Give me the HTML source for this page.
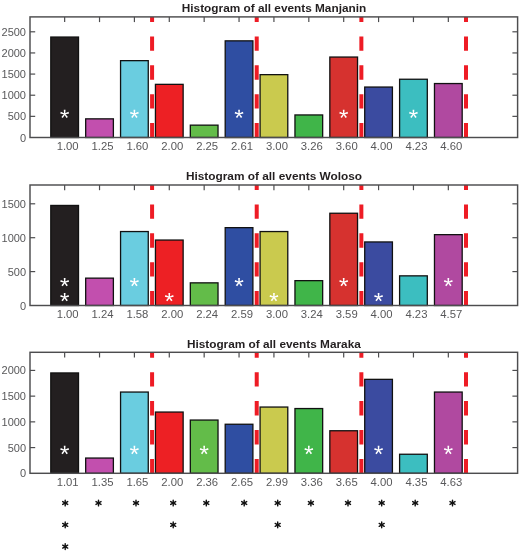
<!DOCTYPE html><html><head><meta charset="utf-8"><style>html,body{margin:0;padding:0;background:#fff}svg{display:block;will-change:transform;opacity:0.999}text{font-family:"Liberation Sans",sans-serif}</style></head><body>
<svg width="520" height="553" viewBox="0 0 520 553">
<rect width="520" height="553" fill="#fff"/>
<defs><g id="ws"><path d="M0.57,0.00 L0.88,-4.35 L-0.87,-4.35 L-0.57,-0.00Z M0.18,0.55 L4.41,-0.51 L3.87,-2.18 L-0.18,-0.55Z M-0.47,0.34 L1.85,4.03 L3.26,3.00 L0.47,-0.34Z M-0.47,-0.34 L-3.26,3.00 L-1.85,4.03 L0.47,0.34Z M0.18,-0.55 L-3.87,-2.18 L-4.41,-0.51 L-0.18,0.55Z" fill="#fff"/><circle r="0.8" fill="#fff"/></g><g id="bs" stroke="#111" stroke-width="1.4" stroke-linecap="round"><line x1="-0.00" y1="-2.90" x2="0.00" y2="2.90"/><line x1="-2.51" y1="-1.45" x2="2.51" y2="1.45"/><line x1="2.51" y1="-1.45" x2="-2.51" y2="1.45"/><circle r="1.2" fill="#111" stroke="none"/></g></defs>
<rect x="50.80" y="37.05" width="27.7" height="100.45" fill="#231f20" stroke="#111" stroke-width="1.3"/>
<rect x="85.68" y="118.85" width="27.7" height="18.65" fill="#c24fae" stroke="#111" stroke-width="1.3"/>
<rect x="120.56" y="60.65" width="27.7" height="76.85" fill="#6acde0" stroke="#111" stroke-width="1.3"/>
<rect x="155.44" y="84.35" width="27.7" height="53.15" fill="#ed2024" stroke="#111" stroke-width="1.3"/>
<rect x="190.32" y="125.15" width="27.7" height="12.35" fill="#63bc49" stroke="#111" stroke-width="1.3"/>
<rect x="225.20" y="40.85" width="27.7" height="96.65" fill="#2f4ea2" stroke="#111" stroke-width="1.3"/>
<rect x="260.08" y="74.65" width="27.7" height="62.85" fill="#cacA4e" stroke="#111" stroke-width="1.3"/>
<rect x="294.96" y="114.95" width="27.7" height="22.55" fill="#40b549" stroke="#111" stroke-width="1.3"/>
<rect x="329.84" y="57.05" width="27.7" height="80.45" fill="#d6322f" stroke="#111" stroke-width="1.3"/>
<rect x="364.72" y="87.05" width="27.7" height="50.45" fill="#3b4ba0" stroke="#111" stroke-width="1.3"/>
<rect x="399.60" y="79.25" width="27.7" height="58.25" fill="#3cbec0" stroke="#111" stroke-width="1.3"/>
<rect x="434.48" y="83.55" width="27.7" height="53.95" fill="#b049a0" stroke="#111" stroke-width="1.3"/>
<line x1="152.08" y1="137.5" x2="152.08" y2="16.9" stroke="#ee1c25" stroke-width="4" stroke-dasharray="14.4 14.5"/>
<line x1="256.72" y1="137.5" x2="256.72" y2="16.9" stroke="#ee1c25" stroke-width="4" stroke-dasharray="14.4 14.5"/>
<line x1="361.36" y1="137.5" x2="361.36" y2="16.9" stroke="#ee1c25" stroke-width="4" stroke-dasharray="14.4 14.5"/>
<line x1="466.00000000000006" y1="137.5" x2="466.00000000000006" y2="16.9" stroke="#ee1c25" stroke-width="4" stroke-dasharray="14.4 14.5"/>
<rect x="30" y="16.9" width="487.6" height="120.6" fill="none" stroke="#4d4d4f" stroke-width="1.45"/>
<line x1="64.65" y1="16.9" x2="64.65" y2="22.099999999999998" stroke="#4d4d4f" stroke-width="1.2"/>
<line x1="99.53" y1="16.9" x2="99.53" y2="22.099999999999998" stroke="#4d4d4f" stroke-width="1.2"/>
<line x1="134.41000000000003" y1="16.9" x2="134.41000000000003" y2="22.099999999999998" stroke="#4d4d4f" stroke-width="1.2"/>
<line x1="169.29000000000002" y1="16.9" x2="169.29000000000002" y2="22.099999999999998" stroke="#4d4d4f" stroke-width="1.2"/>
<line x1="204.17000000000002" y1="16.9" x2="204.17000000000002" y2="22.099999999999998" stroke="#4d4d4f" stroke-width="1.2"/>
<line x1="239.05" y1="16.9" x2="239.05" y2="22.099999999999998" stroke="#4d4d4f" stroke-width="1.2"/>
<line x1="273.93000000000006" y1="16.9" x2="273.93000000000006" y2="22.099999999999998" stroke="#4d4d4f" stroke-width="1.2"/>
<line x1="308.81000000000006" y1="16.9" x2="308.81000000000006" y2="22.099999999999998" stroke="#4d4d4f" stroke-width="1.2"/>
<line x1="343.69000000000005" y1="16.9" x2="343.69000000000005" y2="22.099999999999998" stroke="#4d4d4f" stroke-width="1.2"/>
<line x1="378.57000000000005" y1="16.9" x2="378.57000000000005" y2="22.099999999999998" stroke="#4d4d4f" stroke-width="1.2"/>
<line x1="413.45000000000005" y1="16.9" x2="413.45000000000005" y2="22.099999999999998" stroke="#4d4d4f" stroke-width="1.2"/>
<line x1="448.33000000000004" y1="16.9" x2="448.33000000000004" y2="22.099999999999998" stroke="#4d4d4f" stroke-width="1.2"/>
<text x="26" y="141.5" font-size="11" text-anchor="end" fill="#58585a">0</text>
<line x1="30" y1="116.36" x2="35.2" y2="116.36" stroke="#4d4d4f" stroke-width="1.2"/>
<line x1="517.6" y1="116.36" x2="512.4" y2="116.36" stroke="#4d4d4f" stroke-width="1.2"/>
<text x="26" y="120.36" font-size="11" text-anchor="end" fill="#58585a">500</text>
<line x1="30" y1="95.22" x2="35.2" y2="95.22" stroke="#4d4d4f" stroke-width="1.2"/>
<line x1="517.6" y1="95.22" x2="512.4" y2="95.22" stroke="#4d4d4f" stroke-width="1.2"/>
<text x="26" y="99.22" font-size="11" text-anchor="end" fill="#58585a">1000</text>
<line x1="30" y1="74.08" x2="35.2" y2="74.08" stroke="#4d4d4f" stroke-width="1.2"/>
<line x1="517.6" y1="74.08" x2="512.4" y2="74.08" stroke="#4d4d4f" stroke-width="1.2"/>
<text x="26" y="78.08" font-size="11" text-anchor="end" fill="#58585a">1500</text>
<line x1="30" y1="52.94" x2="35.2" y2="52.94" stroke="#4d4d4f" stroke-width="1.2"/>
<line x1="517.6" y1="52.94" x2="512.4" y2="52.94" stroke="#4d4d4f" stroke-width="1.2"/>
<text x="26" y="56.94" font-size="11" text-anchor="end" fill="#58585a">2000</text>
<line x1="30" y1="31.799999999999997" x2="35.2" y2="31.799999999999997" stroke="#4d4d4f" stroke-width="1.2"/>
<line x1="517.6" y1="31.799999999999997" x2="512.4" y2="31.799999999999997" stroke="#4d4d4f" stroke-width="1.2"/>
<text x="26" y="35.8" font-size="11" text-anchor="end" fill="#58585a">2500</text>
<text x="67.65" y="150.20" font-size="11.3" text-anchor="middle" fill="#58585a">1.00</text>
<text x="102.53" y="150.20" font-size="11.3" text-anchor="middle" fill="#58585a">1.25</text>
<text x="137.41000000000003" y="150.20" font-size="11.3" text-anchor="middle" fill="#58585a">1.60</text>
<text x="172.29000000000002" y="150.20" font-size="11.3" text-anchor="middle" fill="#58585a">2.00</text>
<text x="207.17000000000002" y="150.20" font-size="11.3" text-anchor="middle" fill="#58585a">2.25</text>
<text x="242.05" y="150.20" font-size="11.3" text-anchor="middle" fill="#58585a">2.61</text>
<text x="276.93000000000006" y="150.20" font-size="11.3" text-anchor="middle" fill="#58585a">3.00</text>
<text x="311.81000000000006" y="150.20" font-size="11.3" text-anchor="middle" fill="#58585a">3.26</text>
<text x="346.69000000000005" y="150.20" font-size="11.3" text-anchor="middle" fill="#58585a">3.60</text>
<text x="381.57000000000005" y="150.20" font-size="11.3" text-anchor="middle" fill="#58585a">4.00</text>
<text x="416.45000000000005" y="150.20" font-size="11.3" text-anchor="middle" fill="#58585a">4.23</text>
<text x="451.33000000000004" y="150.20" font-size="11.3" text-anchor="middle" fill="#58585a">4.60</text>
<text x="181.8" y="11.7" font-size="10.9" font-weight="bold" textLength="184.4" lengthAdjust="spacingAndGlyphs" fill="#231f20">Histogram of all events Manjanin</text>
<use href="#ws" x="64.65" y="114.00"/>
<use href="#ws" x="134.41" y="114.00"/>
<use href="#ws" x="239.05" y="114.00"/>
<use href="#ws" x="343.69" y="114.00"/>
<use href="#ws" x="413.45" y="114.00"/>
<rect x="50.80" y="205.45" width="27.7" height="100.05" fill="#231f20" stroke="#111" stroke-width="1.3"/>
<rect x="85.68" y="278.15" width="27.7" height="27.35" fill="#c24fae" stroke="#111" stroke-width="1.3"/>
<rect x="120.56" y="231.55" width="27.7" height="73.95" fill="#6acde0" stroke="#111" stroke-width="1.3"/>
<rect x="155.44" y="240.05" width="27.7" height="65.45" fill="#ed2024" stroke="#111" stroke-width="1.3"/>
<rect x="190.32" y="282.85" width="27.7" height="22.65" fill="#63bc49" stroke="#111" stroke-width="1.3"/>
<rect x="225.20" y="227.65" width="27.7" height="77.85" fill="#2f4ea2" stroke="#111" stroke-width="1.3"/>
<rect x="260.08" y="231.55" width="27.7" height="73.95" fill="#cacA4e" stroke="#111" stroke-width="1.3"/>
<rect x="294.96" y="280.65" width="27.7" height="24.85" fill="#40b549" stroke="#111" stroke-width="1.3"/>
<rect x="329.84" y="213.25" width="27.7" height="92.25" fill="#d6322f" stroke="#111" stroke-width="1.3"/>
<rect x="364.72" y="241.95" width="27.7" height="63.55" fill="#3b4ba0" stroke="#111" stroke-width="1.3"/>
<rect x="399.60" y="275.85" width="27.7" height="29.65" fill="#3cbec0" stroke="#111" stroke-width="1.3"/>
<rect x="434.48" y="234.65" width="27.7" height="70.85" fill="#b049a0" stroke="#111" stroke-width="1.3"/>
<line x1="152.08" y1="305.5" x2="152.08" y2="185" stroke="#ee1c25" stroke-width="4" stroke-dasharray="14.4 14.5"/>
<line x1="256.72" y1="305.5" x2="256.72" y2="185" stroke="#ee1c25" stroke-width="4" stroke-dasharray="14.4 14.5"/>
<line x1="361.36" y1="305.5" x2="361.36" y2="185" stroke="#ee1c25" stroke-width="4" stroke-dasharray="14.4 14.5"/>
<line x1="466.00000000000006" y1="305.5" x2="466.00000000000006" y2="185" stroke="#ee1c25" stroke-width="4" stroke-dasharray="14.4 14.5"/>
<rect x="30" y="185" width="487.6" height="120.5" fill="none" stroke="#4d4d4f" stroke-width="1.45"/>
<line x1="64.65" y1="185" x2="64.65" y2="190.2" stroke="#4d4d4f" stroke-width="1.2"/>
<line x1="99.53" y1="185" x2="99.53" y2="190.2" stroke="#4d4d4f" stroke-width="1.2"/>
<line x1="134.41000000000003" y1="185" x2="134.41000000000003" y2="190.2" stroke="#4d4d4f" stroke-width="1.2"/>
<line x1="169.29000000000002" y1="185" x2="169.29000000000002" y2="190.2" stroke="#4d4d4f" stroke-width="1.2"/>
<line x1="204.17000000000002" y1="185" x2="204.17000000000002" y2="190.2" stroke="#4d4d4f" stroke-width="1.2"/>
<line x1="239.05" y1="185" x2="239.05" y2="190.2" stroke="#4d4d4f" stroke-width="1.2"/>
<line x1="273.93000000000006" y1="185" x2="273.93000000000006" y2="190.2" stroke="#4d4d4f" stroke-width="1.2"/>
<line x1="308.81000000000006" y1="185" x2="308.81000000000006" y2="190.2" stroke="#4d4d4f" stroke-width="1.2"/>
<line x1="343.69000000000005" y1="185" x2="343.69000000000005" y2="190.2" stroke="#4d4d4f" stroke-width="1.2"/>
<line x1="378.57000000000005" y1="185" x2="378.57000000000005" y2="190.2" stroke="#4d4d4f" stroke-width="1.2"/>
<line x1="413.45000000000005" y1="185" x2="413.45000000000005" y2="190.2" stroke="#4d4d4f" stroke-width="1.2"/>
<line x1="448.33000000000004" y1="185" x2="448.33000000000004" y2="190.2" stroke="#4d4d4f" stroke-width="1.2"/>
<text x="26" y="309.5" font-size="11" text-anchor="end" fill="#58585a">0</text>
<line x1="30" y1="271.6" x2="35.2" y2="271.6" stroke="#4d4d4f" stroke-width="1.2"/>
<line x1="517.6" y1="271.6" x2="512.4" y2="271.6" stroke="#4d4d4f" stroke-width="1.2"/>
<text x="26" y="275.6" font-size="11" text-anchor="end" fill="#58585a">500</text>
<line x1="30" y1="237.7" x2="35.2" y2="237.7" stroke="#4d4d4f" stroke-width="1.2"/>
<line x1="517.6" y1="237.7" x2="512.4" y2="237.7" stroke="#4d4d4f" stroke-width="1.2"/>
<text x="26" y="241.7" font-size="11" text-anchor="end" fill="#58585a">1000</text>
<line x1="30" y1="203.8" x2="35.2" y2="203.8" stroke="#4d4d4f" stroke-width="1.2"/>
<line x1="517.6" y1="203.8" x2="512.4" y2="203.8" stroke="#4d4d4f" stroke-width="1.2"/>
<text x="26" y="207.8" font-size="11" text-anchor="end" fill="#58585a">1500</text>
<text x="67.65" y="318.20" font-size="11.3" text-anchor="middle" fill="#58585a">1.00</text>
<text x="102.53" y="318.20" font-size="11.3" text-anchor="middle" fill="#58585a">1.24</text>
<text x="137.41000000000003" y="318.20" font-size="11.3" text-anchor="middle" fill="#58585a">1.58</text>
<text x="172.29000000000002" y="318.20" font-size="11.3" text-anchor="middle" fill="#58585a">2.00</text>
<text x="207.17000000000002" y="318.20" font-size="11.3" text-anchor="middle" fill="#58585a">2.24</text>
<text x="242.05" y="318.20" font-size="11.3" text-anchor="middle" fill="#58585a">2.59</text>
<text x="276.93000000000006" y="318.20" font-size="11.3" text-anchor="middle" fill="#58585a">3.00</text>
<text x="311.81000000000006" y="318.20" font-size="11.3" text-anchor="middle" fill="#58585a">3.24</text>
<text x="346.69000000000005" y="318.20" font-size="11.3" text-anchor="middle" fill="#58585a">3.59</text>
<text x="381.57000000000005" y="318.20" font-size="11.3" text-anchor="middle" fill="#58585a">4.00</text>
<text x="416.45000000000005" y="318.20" font-size="11.3" text-anchor="middle" fill="#58585a">4.23</text>
<text x="451.33000000000004" y="318.20" font-size="11.3" text-anchor="middle" fill="#58585a">4.57</text>
<text x="185.9" y="180" font-size="10.9" font-weight="bold" textLength="176.2" lengthAdjust="spacingAndGlyphs" fill="#231f20">Histogram of all events Woloso</text>
<use href="#ws" x="64.65" y="282.30"/>
<use href="#ws" x="64.65" y="297.30"/>
<use href="#ws" x="134.41" y="282.30"/>
<use href="#ws" x="169.29" y="297.30"/>
<use href="#ws" x="239.05" y="282.30"/>
<use href="#ws" x="273.93" y="297.30"/>
<use href="#ws" x="343.69" y="282.30"/>
<use href="#ws" x="378.57" y="297.30"/>
<use href="#ws" x="448.33" y="282.30"/>
<rect x="50.80" y="372.95" width="27.7" height="100.35" fill="#231f20" stroke="#111" stroke-width="1.3"/>
<rect x="85.68" y="458.05" width="27.7" height="15.25" fill="#c24fae" stroke="#111" stroke-width="1.3"/>
<rect x="120.56" y="392.05" width="27.7" height="81.25" fill="#6acde0" stroke="#111" stroke-width="1.3"/>
<rect x="155.44" y="412.05" width="27.7" height="61.25" fill="#ed2024" stroke="#111" stroke-width="1.3"/>
<rect x="190.32" y="420.05" width="27.7" height="53.25" fill="#63bc49" stroke="#111" stroke-width="1.3"/>
<rect x="225.20" y="424.25" width="27.7" height="49.05" fill="#2f4ea2" stroke="#111" stroke-width="1.3"/>
<rect x="260.08" y="407.05" width="27.7" height="66.25" fill="#cacA4e" stroke="#111" stroke-width="1.3"/>
<rect x="294.96" y="408.55" width="27.7" height="64.75" fill="#40b549" stroke="#111" stroke-width="1.3"/>
<rect x="329.84" y="430.75" width="27.7" height="42.55" fill="#d6322f" stroke="#111" stroke-width="1.3"/>
<rect x="364.72" y="379.35" width="27.7" height="93.95" fill="#3b4ba0" stroke="#111" stroke-width="1.3"/>
<rect x="399.60" y="454.25" width="27.7" height="19.05" fill="#3cbec0" stroke="#111" stroke-width="1.3"/>
<rect x="434.48" y="392.05" width="27.7" height="81.25" fill="#b049a0" stroke="#111" stroke-width="1.3"/>
<line x1="152.08" y1="473.3" x2="152.08" y2="352.3" stroke="#ee1c25" stroke-width="4" stroke-dasharray="14.4 14.5"/>
<line x1="256.72" y1="473.3" x2="256.72" y2="352.3" stroke="#ee1c25" stroke-width="4" stroke-dasharray="14.4 14.5"/>
<line x1="361.36" y1="473.3" x2="361.36" y2="352.3" stroke="#ee1c25" stroke-width="4" stroke-dasharray="14.4 14.5"/>
<line x1="466.00000000000006" y1="473.3" x2="466.00000000000006" y2="352.3" stroke="#ee1c25" stroke-width="4" stroke-dasharray="14.4 14.5"/>
<rect x="30" y="352.3" width="487.6" height="121.0" fill="none" stroke="#4d4d4f" stroke-width="1.45"/>
<line x1="64.65" y1="352.3" x2="64.65" y2="357.5" stroke="#4d4d4f" stroke-width="1.2"/>
<line x1="99.53" y1="352.3" x2="99.53" y2="357.5" stroke="#4d4d4f" stroke-width="1.2"/>
<line x1="134.41000000000003" y1="352.3" x2="134.41000000000003" y2="357.5" stroke="#4d4d4f" stroke-width="1.2"/>
<line x1="169.29000000000002" y1="352.3" x2="169.29000000000002" y2="357.5" stroke="#4d4d4f" stroke-width="1.2"/>
<line x1="204.17000000000002" y1="352.3" x2="204.17000000000002" y2="357.5" stroke="#4d4d4f" stroke-width="1.2"/>
<line x1="239.05" y1="352.3" x2="239.05" y2="357.5" stroke="#4d4d4f" stroke-width="1.2"/>
<line x1="273.93000000000006" y1="352.3" x2="273.93000000000006" y2="357.5" stroke="#4d4d4f" stroke-width="1.2"/>
<line x1="308.81000000000006" y1="352.3" x2="308.81000000000006" y2="357.5" stroke="#4d4d4f" stroke-width="1.2"/>
<line x1="343.69000000000005" y1="352.3" x2="343.69000000000005" y2="357.5" stroke="#4d4d4f" stroke-width="1.2"/>
<line x1="378.57000000000005" y1="352.3" x2="378.57000000000005" y2="357.5" stroke="#4d4d4f" stroke-width="1.2"/>
<line x1="413.45000000000005" y1="352.3" x2="413.45000000000005" y2="357.5" stroke="#4d4d4f" stroke-width="1.2"/>
<line x1="448.33000000000004" y1="352.3" x2="448.33000000000004" y2="357.5" stroke="#4d4d4f" stroke-width="1.2"/>
<text x="26" y="477.3" font-size="11" text-anchor="end" fill="#58585a">0</text>
<line x1="30" y1="447.58000000000004" x2="35.2" y2="447.58000000000004" stroke="#4d4d4f" stroke-width="1.2"/>
<line x1="517.6" y1="447.58000000000004" x2="512.4" y2="447.58000000000004" stroke="#4d4d4f" stroke-width="1.2"/>
<text x="26" y="451.58000000000004" font-size="11" text-anchor="end" fill="#58585a">500</text>
<line x1="30" y1="421.86" x2="35.2" y2="421.86" stroke="#4d4d4f" stroke-width="1.2"/>
<line x1="517.6" y1="421.86" x2="512.4" y2="421.86" stroke="#4d4d4f" stroke-width="1.2"/>
<text x="26" y="425.86" font-size="11" text-anchor="end" fill="#58585a">1000</text>
<line x1="30" y1="396.14" x2="35.2" y2="396.14" stroke="#4d4d4f" stroke-width="1.2"/>
<line x1="517.6" y1="396.14" x2="512.4" y2="396.14" stroke="#4d4d4f" stroke-width="1.2"/>
<text x="26" y="400.14" font-size="11" text-anchor="end" fill="#58585a">1500</text>
<line x1="30" y1="370.42" x2="35.2" y2="370.42" stroke="#4d4d4f" stroke-width="1.2"/>
<line x1="517.6" y1="370.42" x2="512.4" y2="370.42" stroke="#4d4d4f" stroke-width="1.2"/>
<text x="26" y="374.42" font-size="11" text-anchor="end" fill="#58585a">2000</text>
<text x="67.65" y="486.00" font-size="11.3" text-anchor="middle" fill="#58585a">1.01</text>
<text x="102.53" y="486.00" font-size="11.3" text-anchor="middle" fill="#58585a">1.35</text>
<text x="137.41000000000003" y="486.00" font-size="11.3" text-anchor="middle" fill="#58585a">1.65</text>
<text x="172.29000000000002" y="486.00" font-size="11.3" text-anchor="middle" fill="#58585a">2.00</text>
<text x="207.17000000000002" y="486.00" font-size="11.3" text-anchor="middle" fill="#58585a">2.36</text>
<text x="242.05" y="486.00" font-size="11.3" text-anchor="middle" fill="#58585a">2.65</text>
<text x="276.93000000000006" y="486.00" font-size="11.3" text-anchor="middle" fill="#58585a">2.99</text>
<text x="311.81000000000006" y="486.00" font-size="11.3" text-anchor="middle" fill="#58585a">3.36</text>
<text x="346.69000000000005" y="486.00" font-size="11.3" text-anchor="middle" fill="#58585a">3.65</text>
<text x="381.57000000000005" y="486.00" font-size="11.3" text-anchor="middle" fill="#58585a">4.00</text>
<text x="416.45000000000005" y="486.00" font-size="11.3" text-anchor="middle" fill="#58585a">4.35</text>
<text x="451.33000000000004" y="486.00" font-size="11.3" text-anchor="middle" fill="#58585a">4.63</text>
<text x="186.9" y="347.8" font-size="10.9" font-weight="bold" textLength="173.9" lengthAdjust="spacingAndGlyphs" fill="#231f20">Histogram of all events Maraka</text>
<use href="#ws" x="64.65" y="450.20"/>
<use href="#ws" x="134.41" y="450.20"/>
<use href="#ws" x="204.17" y="450.20"/>
<use href="#ws" x="308.81" y="450.20"/>
<use href="#ws" x="378.57" y="450.20"/>
<use href="#ws" x="448.33" y="450.20"/>
<use href="#bs" x="65.2" y="503.0"/>
<use href="#bs" x="65.2" y="524.9"/>
<use href="#bs" x="65.2" y="546.6"/>
<use href="#bs" x="98.5" y="503.0"/>
<use href="#bs" x="136" y="503.0"/>
<use href="#bs" x="173.2" y="503.0"/>
<use href="#bs" x="173.2" y="524.9"/>
<use href="#bs" x="206.3" y="503.0"/>
<use href="#bs" x="244.2" y="503.0"/>
<use href="#bs" x="277.7" y="503.0"/>
<use href="#bs" x="277.7" y="524.9"/>
<use href="#bs" x="310.9" y="503.0"/>
<use href="#bs" x="348" y="503.0"/>
<use href="#bs" x="381.7" y="503.0"/>
<use href="#bs" x="381.7" y="524.9"/>
<use href="#bs" x="415.2" y="503.0"/>
<use href="#bs" x="452.5" y="503.0"/>
</svg></body></html>
